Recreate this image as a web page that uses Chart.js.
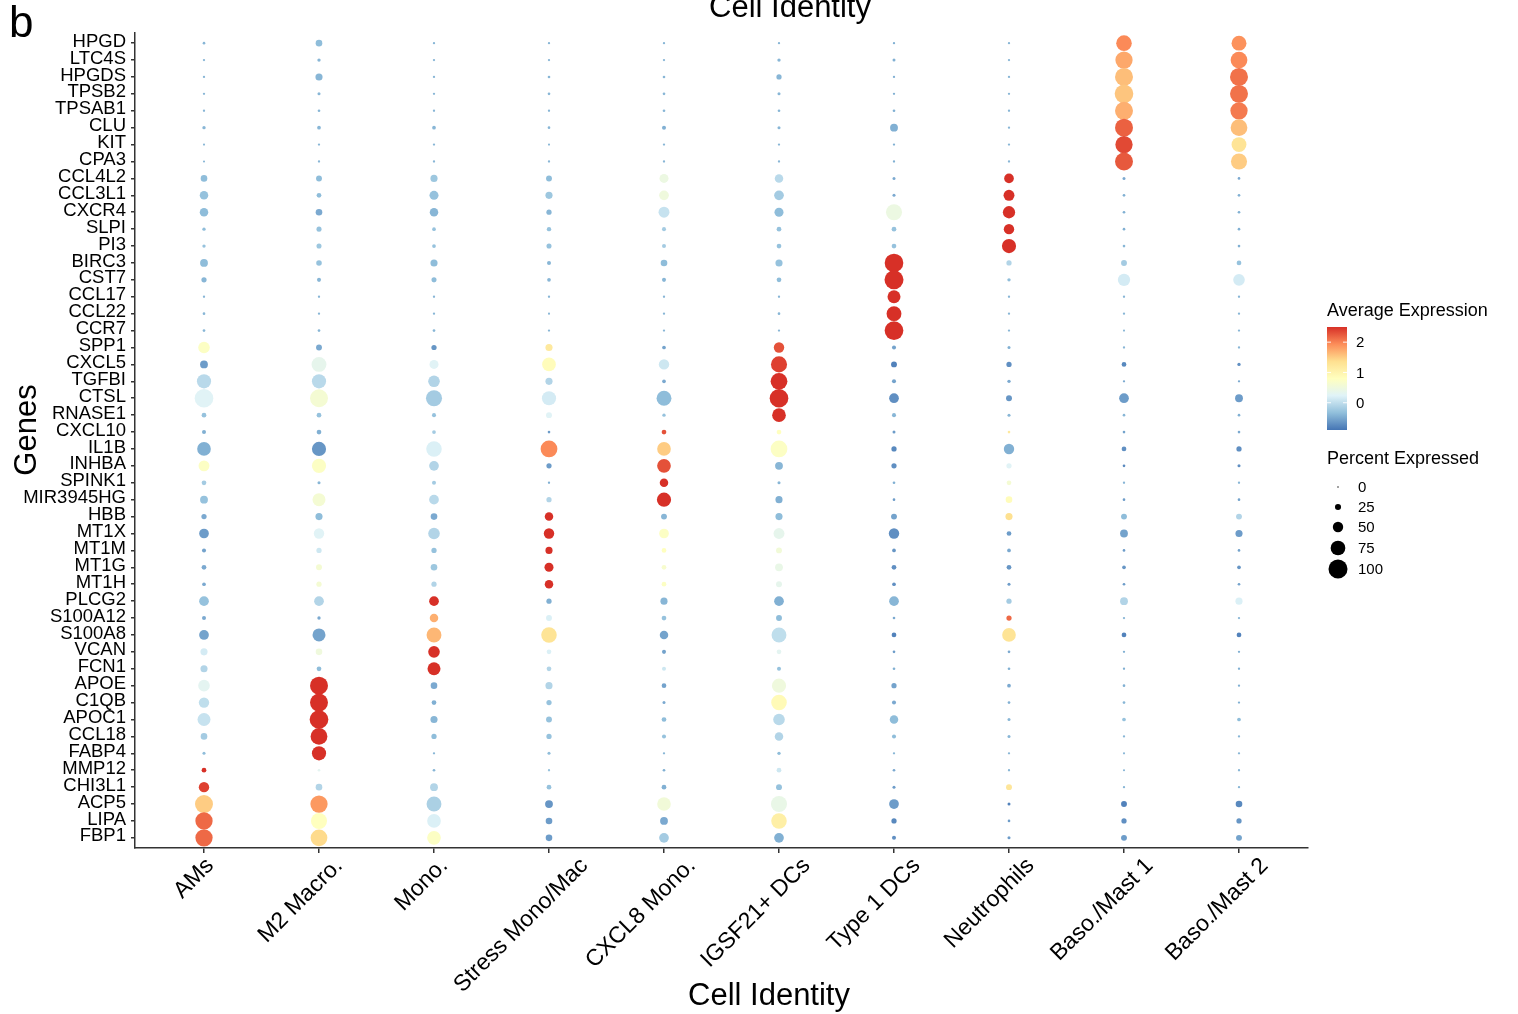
<!DOCTYPE html>
<html>
<head>
<meta charset="utf-8">
<script src="https://cdn.jsdelivr.net/npm/chart.js@4.4.1/dist/chart.umd.min.js"></script>
<style>
  html, body { margin: 0; padding: 0; background: #fff; }
  #wrap { width: 1518px; height: 1014px; }
</style>
</head>
<body>
<div id="wrap"><canvas id="dots" width="1518" height="1014"></canvas></div>
<script>
// genes, top to bottom
const genes = ['HPGD','LTC4S','HPGDS','TPSB2','TPSAB1','CLU','KIT','CPA3',
  'CCL4L2','CCL3L1','CXCR4','SLPI','PI3','BIRC3','CST7','CCL17','CCL22','CCR7',
  'SPP1','CXCL5','TGFBI','CTSL','RNASE1','CXCL10','IL1B','INHBA','SPINK1','MIR3945HG',
  'HBB','MT1X','MT1M','MT1G','MT1H','PLCG2','S100A12','S100A8','VCAN','FCN1',
  'APOE','C1QB','APOC1','CCL18','FABP4','MMP12','CHI3L1','ACP5','LIPA','FBP1'];

const cellTypes = ['AMs','M2 Macro.','Mono.','Stress Mono/Mac','CXCL8 Mono.',
  'IGSF21+ DCs','Type 1 DCs','Neutrophils','Baso./Mast 1','Baso./Mast 2'];

// percent expressed, one array per cell type (same order as genes)
const pctAMs = [5,3,3,3,3,9,2,2,28,39,39,9,9,35,20,3,5,5,57,35,72,98,17,13,69,53,17,35,20,46,13,17,11,46,13,46,31,31,57,50,65,28,7,17,50,94,90,90];
const pctM2 = [28,9,31,7,5,11,3,3,24,17,28,19,19,22,13,3,3,5,24,76,72,94,17,17,72,72,7,65,31,50,20,24,20,46,9,65,28,17,94,94,98,87,72,5,28,90,83,87];
const pctMono = [3,3,3,3,3,11,3,3,31,42,39,11,11,31,19,3,3,5,20,42,57,83,13,11,80,46,13,46,28,57,20,28,20,46,39,76,57,65,28,17,31,20,3,5,35,76,69,69];
const pctStress = [3,3,5,5,3,5,2,3,24,31,20,15,19,13,11,3,2,3,31,69,31,72,24,5,87,20,3,20,39,50,31,42,39,20,24,80,17,17,31,20,24,20,7,3,17,35,28,28];
const pctCXCL8 = [3,3,5,5,5,13,3,3,42,46,53,13,13,28,13,3,3,3,11,50,11,76,9,17,69,69,39,72,24,46,17,17,17,31,17,39,13,13,17,7,17,13,3,5,17,69,35,46];
const pctIGSF21 = [3,9,20,7,5,7,3,3,39,46,42,17,17,31,17,3,5,3,50,83,87,98,69,17,87,35,7,31,31,53,24,35,24,46,24,76,17,13,72,80,57,39,9,17,24,83,80,46];
const pctType1 = [3,7,3,3,5,35,3,3,7,7,83,17,17,98,100,65,76,98,13,24,13,46,13,7,20,20,5,5,24,50,11,17,11,46,5,17,5,5,20,13,39,13,3,5,7,46,20,13];
const pctNeut = [3,3,3,3,3,3,3,3,46,53,61,50,72,20,9,3,3,3,7,20,9,24,7,5,50,20,17,28,31,17,11,17,7,20,20,69,5,5,11,5,7,7,3,3,24,7,5,7];
const pctBaso1 = [80,90,94,98,94,94,90,94,7,5,5,5,5,24,61,3,3,2,3,17,3,46,5,5,17,5,3,5,24,35,5,11,5,35,3,17,3,3,5,5,11,3,2,2,3,24,20,24];
const pctBaso2 = [76,87,94,94,90,87,76,83,5,5,5,5,5,17,57,3,3,3,3,9,3,35,5,5,20,7,3,5,24,31,5,11,5,31,3,17,3,3,3,3,11,3,3,3,3,28,20,24];

// scaled average expression, one array per cell type
const avgAMs = [-0.4,-0.4,-0.4,-0.4,-0.4,-0.4,-0.4,-0.4,-0.35,-0.3,-0.35,-0.35,-0.3,-0.35,-0.4,-0.4,-0.4,-0.4,0.75,-0.6,-0.05,0.25,-0.3,-0.45,-0.45,0.75,-0.2,-0.3,-0.5,-0.6,-0.55,-0.5,-0.5,-0.3,-0.5,-0.55,0.15,-0.1,0.3,0.0,0.05,-0.2,-0.35,2.5,2.4,1.5,2.15,2.15];
const avgM2 = [-0.35,-0.4,-0.4,-0.4,-0.4,-0.4,-0.4,-0.4,-0.35,-0.35,-0.5,-0.3,-0.25,-0.3,-0.4,-0.4,-0.4,-0.4,-0.5,0.35,-0.05,0.6,-0.3,-0.45,-0.65,0.75,-0.4,0.6,-0.35,0.25,0.1,0.6,0.6,-0.1,-0.5,-0.55,0.5,-0.35,2.5,2.5,2.5,2.5,2.5,0.3,-0.1,1.85,0.8,1.4];
const avgMono = [-0.4,-0.4,-0.4,-0.4,-0.4,-0.4,-0.4,-0.4,-0.25,-0.3,-0.4,-0.3,-0.3,-0.35,-0.35,-0.4,-0.4,-0.4,-0.65,0.25,-0.1,-0.2,-0.3,-0.2,0.2,-0.1,-0.2,-0.05,-0.5,-0.1,-0.3,-0.25,-0.1,2.5,1.7,1.65,2.5,2.5,-0.5,-0.45,-0.4,-0.35,-0.4,-0.4,-0.1,-0.15,0.2,0.75];
const avgStress = [-0.4,-0.4,-0.4,-0.4,-0.4,-0.4,-0.4,-0.4,-0.35,-0.25,-0.4,-0.3,-0.3,-0.4,-0.4,-0.4,-0.4,-0.4,1.2,0.85,-0.1,0.15,0.25,-0.6,1.95,-0.6,-0.45,-0.1,2.5,2.5,2.5,2.5,2.5,-0.45,0.2,1.3,0.2,-0.1,-0.1,-0.3,-0.3,-0.3,-0.35,-0.3,-0.3,-0.65,-0.6,-0.6];
const avgCXCL8 = [-0.4,-0.4,-0.4,-0.4,-0.4,-0.45,-0.4,-0.4,0.45,0.5,0.05,-0.2,-0.2,-0.35,-0.4,-0.4,-0.4,-0.4,-0.55,0.1,-0.5,-0.35,-0.3,2.3,1.5,2.3,2.5,2.5,-0.4,0.75,0.8,0.65,0.75,-0.4,-0.3,-0.55,-0.55,0.1,-0.55,-0.5,-0.35,-0.3,-0.4,-0.45,-0.45,0.55,-0.5,-0.2];
const avgIGSF21 = [-0.4,-0.4,-0.4,-0.4,-0.4,-0.4,-0.4,-0.4,-0.05,-0.2,-0.35,-0.3,-0.3,-0.3,-0.35,-0.4,-0.4,-0.4,2.3,2.4,2.5,2.5,2.5,0.8,0.75,-0.4,-0.4,-0.45,-0.35,0.35,0.55,0.4,0.35,-0.45,-0.35,0.0,0.3,-0.3,0.5,0.9,-0.05,-0.1,-0.35,0.1,-0.3,0.4,1.1,-0.45];
const avgType1 = [-0.45,-0.45,-0.45,-0.45,-0.45,-0.45,-0.45,-0.45,-0.5,-0.5,0.45,-0.3,-0.3,2.5,2.5,2.5,2.5,2.5,-0.55,-0.8,-0.55,-0.7,-0.4,-0.6,-0.75,-0.7,-0.45,-0.6,-0.55,-0.7,-0.65,-0.7,-0.7,-0.4,-0.5,-0.8,-0.6,-0.45,-0.55,-0.5,-0.35,-0.35,-0.4,-0.5,-0.6,-0.6,-0.75,-0.7];
const avgNeut = [-0.4,-0.4,-0.4,-0.4,-0.4,-0.4,-0.4,-0.4,2.5,2.5,2.5,2.5,2.5,-0.1,-0.35,-0.4,-0.4,-0.4,-0.45,-0.7,-0.5,-0.65,-0.4,1.2,-0.45,0.25,0.6,0.85,1.35,-0.6,-0.5,-0.65,-0.6,-0.2,2.15,1.3,-0.5,-0.45,-0.5,-0.45,-0.4,-0.4,-0.4,-0.4,1.25,-0.8,-0.6,-0.6];
const avgBaso1 = [1.95,1.75,1.6,1.55,1.7,2.2,2.35,2.25,-0.5,-0.45,-0.45,-0.45,-0.4,-0.2,0.15,-0.4,-0.4,-0.4,-0.4,-0.75,-0.5,-0.6,-0.4,-0.55,-0.7,-0.75,-0.4,-0.6,-0.35,-0.55,-0.6,-0.65,-0.6,-0.1,-0.4,-0.8,-0.45,-0.45,-0.45,-0.4,-0.3,-0.4,-0.4,-0.4,-0.4,-0.8,-0.7,-0.6];
const avgBaso2 = [1.9,1.95,2.1,2.1,2.05,1.6,1.3,1.5,-0.5,-0.45,-0.45,-0.45,-0.45,-0.3,0.15,-0.4,-0.4,-0.4,-0.4,-0.7,-0.5,-0.6,-0.45,-0.5,-0.7,-0.7,-0.4,-0.55,-0.1,-0.6,-0.55,-0.65,-0.55,0.2,-0.4,-0.8,-0.45,-0.45,-0.45,-0.45,-0.35,-0.4,-0.4,-0.4,-0.4,-0.75,-0.65,-0.55];

const pctByCell = [pctAMs,pctM2,pctMono,pctStress,pctCXCL8,pctIGSF21,pctType1,pctNeut,pctBaso1,pctBaso2];
const avgByCell = [avgAMs,avgM2,avgMono,avgStress,avgCXCL8,avgIGSF21,avgType1,avgNeut,avgBaso1,avgBaso2];

// legend ticks
const avgTicks = [0, 1, 2];
const pctTicks = [0, 25, 50, 75, 100];

// RdYlBu (low -> high), spread over the colour bar range
const avgMin = -0.9, avgMax = 2.5;
const palette = ['#4575b4','#91bfdb','#e0f3f8','#ffffbf','#fee090','#fc8d59','#d73027'];

function hexToRgb(h) {
  return [parseInt(h.slice(1,3),16), parseInt(h.slice(3,5),16), parseInt(h.slice(5,7),16)];
}
function avgColor(v) {
  let t = (v - avgMin) / (avgMax - avgMin);
  t = Math.max(0, Math.min(1, t)) * (palette.length - 1);
  const i = Math.min(Math.floor(t), palette.length - 2);
  const f = t - i;
  const a = hexToRgb(palette[i]), b = hexToRgb(palette[i + 1]);
  const c = a.map((x, k) => Math.round(x + (b[k] - x) * f));
  return 'rgb(' + c.join(',') + ')';
}
function pctRadius(p) {
  return 0.9 + p * 0.086;
}

const FONT = "'Liberation Sans', Arial, Helvetica, sans-serif";

const datasets = cellTypes.map((cell, i) => ({
  label: cell,
  data: genes.map((g, j) => ({ x: i, y: j, r: pctRadius(pctByCell[i][j]), avg: avgByCell[i][j] })),
  backgroundColor: ctx => ctx.raw ? avgColor(ctx.raw.avg) : '#999',
  borderWidth: 0,
  hoverRadius: 0
}));

// x labels (ggplot-style 45° placement), titles, panel letter and the two legends
const extras = {
  id: 'extras',
  afterDraw(chart) {
    const ctx = chart.ctx;
    const xs = chart.scales.x;
    ctx.save();
    ctx.fillStyle = '#000';

    ctx.font = '23px ' + FONT;
    ctx.textAlign = 'right';
    ctx.textBaseline = 'top';
    cellTypes.forEach((c, i) => {
      const w = ctx.measureText(c).width;
      ctx.save();
      ctx.translate(xs.getPixelForValue(i) + 0.22 * w - 12, 854);
      ctx.rotate(-Math.PI / 4);
      ctx.fillText(c, 0, 0);
      ctx.restore();
    });

    ctx.textAlign = 'left';
    ctx.textBaseline = 'alphabetic';
    ctx.font = '44px ' + FONT;
    ctx.fillText('b', 9, 37);

    ctx.font = '31px ' + FONT;
    ctx.textAlign = 'center';
    ctx.fillText('Cell Identity', 790, 17);
    ctx.fillText('Cell Identity', 769, 1005);

    ctx.save();
    ctx.translate(36, 430);
    ctx.rotate(-Math.PI / 2);
    ctx.fillText('Genes', 0, 0);
    ctx.restore();

    // colour bar
    ctx.textAlign = 'left';
    ctx.font = '18px ' + FONT;
    ctx.fillText('Average Expression', 1327, 316);
    const barTop = 327, barBot = 430, barX = 1327, barW = 20;
    const grad = ctx.createLinearGradient(0, barBot, 0, barTop);
    palette.forEach((c, k) => grad.addColorStop(k / (palette.length - 1), c));
    ctx.fillStyle = grad;
    ctx.fillRect(barX, barTop, barW, barBot - barTop);
    ctx.font = '15px ' + FONT;
    ctx.textBaseline = 'middle';
    avgTicks.forEach(v => {
      const y = barBot - (v - avgMin) / (avgMax - avgMin) * (barBot - barTop);
      ctx.strokeStyle = 'rgba(255,255,255,0.9)';
      ctx.lineWidth = 1;
      ctx.beginPath();
      ctx.moveTo(barX, y); ctx.lineTo(barX + 4, y);
      ctx.moveTo(barX + barW - 4, y); ctx.lineTo(barX + barW, y);
      ctx.stroke();
      ctx.fillStyle = '#000';
      ctx.fillText(String(v), 1356, y + 1);
    });

    // size legend
    ctx.textBaseline = 'alphabetic';
    ctx.font = '18px ' + FONT;
    ctx.fillText('Percent Expressed', 1327, 464);
    ctx.font = '15px ' + FONT;
    ctx.textBaseline = 'middle';
    const pctY = [487, 507, 527, 548, 569];
    pctTicks.forEach((p, k) => {
      ctx.beginPath();
      ctx.arc(1338, pctY[k], p === 0 ? 0.7 : pctRadius(p), 0, Math.PI * 2);
      ctx.fill();
      ctx.fillText(String(p), 1358, pctY[k] + 1);
    });
    ctx.restore();
  }
};

new Chart(document.getElementById('dots'), {
  type: 'bubble',
  data: { datasets: datasets },
  plugins: [extras],
  options: {
    responsive: false,
    devicePixelRatio: 1,
    animation: false,
    events: [],
    layout: { padding: { left: 0, top: 33, right: 210, bottom: 0 } },
    plugins: { legend: { display: false }, tooltip: { enabled: false } },
    scales: {
      x: {
        type: 'linear',
        min: -0.6,
        max: 9.6,
        afterFit: s => { s.height = 166; },
        grid: { display: true, drawOnChartArea: false, drawTicks: true, tickLength: 5, color: '#333', lineWidth: 1.5 },
        border: { display: true, color: '#333', width: 1.5 },
        ticks: {
          stepSize: 1,
          includeBounds: false,
          autoSkip: false,
          maxRotation: 0,
          callback: () => ''
        }
      },
      y: {
        type: 'linear',
        reverse: true,
        min: -0.6,
        max: 47.6,
        afterFit: s => { s.width = 135; },
        grid: { display: true, drawOnChartArea: false, drawTicks: true, tickLength: 4, color: '#333', lineWidth: 1.5 },
        border: { display: true, color: '#333', width: 1.5 },
        ticks: {
          stepSize: 1,
          includeBounds: false,
          autoSkip: false,
          padding: 5,
          labelOffset: -1.5,
          color: '#000',
          font: { family: FONT, size: 18.5 },
          callback: v => genes[v] ?? ''
        }
      }
    }
  }
});
</script>
</body>
</html>
